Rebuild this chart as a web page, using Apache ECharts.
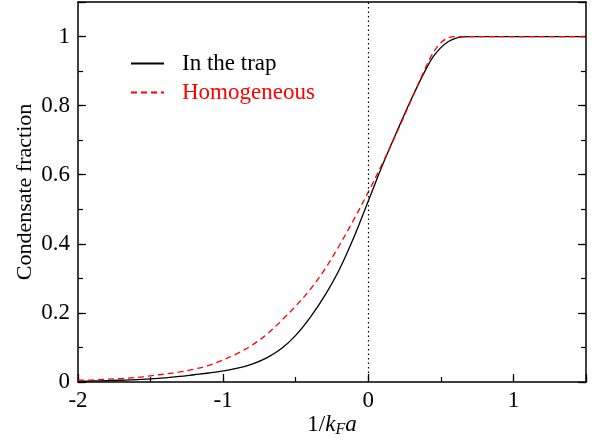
<!DOCTYPE html>
<html>
<head>
<meta charset="utf-8">
<script src="https://cdn.jsdelivr.net/npm/echarts@6/dist/echarts.min.js"></script>
<style>
  html, body { margin: 0; padding: 0; background: #fff; }
  #chart { width: 601px; height: 443px; }
</style>
</head>
<body>
<div id="chart"></div>
<script>
// 1/kFa values
const xVals = [-2, -1.9, -1.8, -1.7, -1.6, -1.5, -1.4, -1.3, -1.2, -1.1, -1.0, -0.9, -0.8, -0.7, -0.6,
  -0.5, -0.4, -0.3, -0.2, -0.1, 0, 0.1, 0.2, 0.3, 0.4, 0.45, 0.5, 0.55, 0.6, 0.65, 0.7, 0.8, 1.0, 1.2, 1.5];
// condensate fraction, in the trap
const trapVals = [0.002, 0.003, 0.004, 0.005, 0.007, 0.009, 0.012, 0.016, 0.021, 0.026, 0.032, 0.040, 0.052, 0.070, 0.096,
  0.135, 0.187, 0.25, 0.325, 0.418, 0.524, 0.63, 0.728, 0.822, 0.908, 0.943, 0.968, 0.985, 0.995, 0.999, 1, 1, 1, 1, 1];
// condensate fraction, homogeneous
const homoVals = [0.005, 0.006, 0.008, 0.010, 0.013, 0.018, 0.023, 0.029, 0.037, 0.048, 0.064, 0.083, 0.107, 0.138, 0.177,
  0.22, 0.268, 0.326, 0.395, 0.47, 0.55, 0.635, 0.725, 0.82, 0.915, 0.955, 0.982, 0.996, 1, 1, 1, 1, 1, 1, 1];
const xTicks = [-2, -1, 0, 1];
const yTicks = [0, 0.2, 0.4, 0.6, 0.8, 1];

const FONT = "Liberation Serif";
const chart = echarts.init(document.getElementById("chart"));

const pairs = (ys) => xVals.map((x, i) => [x, ys[i]]);

function showTick(list) {
  return function (v) {
    for (const t of list) {
      if (Math.abs(v - t) < 1e-6) return String(t);
    }
    return "";
  };
}

const frame = { show: true, onZero: false, lineStyle: { color: "#000", width: 1.5 } };
const noLine = { show: false, onZero: false };
const tickStyle = { color: "#000", width: 1.2 };

chart.setOption({
  animation: false,
  grid: { left: 78, right: 15, top: 2, bottom: 61 },
  legend: {
    orient: "vertical",
    left: 125,
    top: 47,
    itemWidth: 33,
    itemHeight: 14,
    itemGap: 6,
    itemStyle: { opacity: 0 },
    textStyle: { fontFamily: FONT, fontSize: 23, color: "#000", padding: [0, 0, 0, 13] },
    data: [
      { name: "In the trap", textStyle: { color: "#000" } },
      { name: "Homogeneous", textStyle: { color: "#ff0000" } },
    ],
  },
  xAxis: [
    {
      type: "value",
      min: -2,
      max: 1.5,
      interval: 1,
      position: "bottom",
      axisLine: frame,
      axisTick: { inside: true, length: 8, lineStyle: tickStyle },
      axisLabel: {
        margin: 7,
        fontFamily: FONT,
        fontSize: 23,
        color: "#000",
        formatter: showTick(xTicks),
      },
      splitLine: { show: false },
      name: "{n|1/}{i|k}{s|F}{i|a}",
      nameLocation: "middle",
      nameGap: 29,
      nameMoveOverlap: false,
      nameTextStyle: {
        rich: {
          n: { fontFamily: FONT, fontSize: 23, color: "#000" },
          i: { fontFamily: FONT, fontSize: 23, fontStyle: "italic", color: "#000" },
          s: { fontFamily: FONT, fontSize: 16, fontStyle: "italic", color: "#000", verticalAlign: "bottom", padding: [11, 0, 0, 0] },
        },
      },
    },
    {
      type: "value",
      min: -2,
      max: 1.5,
      interval: 0.5,
      position: "bottom",
      axisLine: noLine,
      axisTick: { inside: true, length: 5, lineStyle: tickStyle },
      axisLabel: { show: false },
      splitLine: { show: false },
    },
    {
      type: "value",
      min: -2,
      max: 1.5,
      position: "top",
      axisLine: frame,
      axisTick: { show: false },
      axisLabel: { show: false },
      splitLine: { show: false },
    },
  ],
  yAxis: [
    {
      type: "value",
      min: 0,
      max: 1.1,
      interval: 0.2,
      position: "left",
      axisLine: frame,
      axisTick: { inside: true, length: 8, lineStyle: tickStyle },
      axisLabel: {
        margin: 8,
        fontFamily: FONT,
        fontSize: 23,
        color: "#000",
        formatter: showTick(yTicks),
      },
      splitLine: { show: false },
      name: "Condensate fraction",
      nameLocation: "middle",
      nameGap: 42,
      nameMoveOverlap: false,
      nameTextStyle: { fontFamily: FONT, fontSize: 22, color: "#000" },
    },
    {
      type: "value",
      min: 0,
      max: 1.1,
      interval: 0.1,
      position: "left",
      axisLine: noLine,
      axisTick: { inside: true, length: 5, lineStyle: tickStyle },
      axisLabel: { show: false },
      splitLine: { show: false },
    },
    {
      type: "value",
      min: 0,
      max: 1.1,
      interval: 0.2,
      position: "right",
      axisLine: frame,
      axisTick: { inside: true, length: 8, lineStyle: tickStyle },
      axisLabel: { show: false },
      splitLine: { show: false },
    },
    {
      type: "value",
      min: 0,
      max: 1.1,
      interval: 0.1,
      position: "right",
      axisLine: noLine,
      axisTick: { inside: true, length: 5, lineStyle: tickStyle },
      axisLabel: { show: false },
      splitLine: { show: false },
    },
  ],
  series: [
    {
      name: "In the trap",
      type: "line",
      data: pairs(trapVals),
      smooth: 0.35,
      showSymbol: false,
      symbol: "none",
      lineStyle: { color: "#000", width: 1.3 },
      itemStyle: { color: "#000" },
      markLine: {
        silent: true,
        symbol: "none",
        label: { show: false },
        lineStyle: { color: "#000", width: 1.2, type: [1.5, 3] },
        data: [{ xAxis: 0 }],
      },
      z: 3,
    },
    {
      name: "Homogeneous",
      type: "line",
      data: pairs(homoVals),
      smooth: 0.35,
      showSymbol: false,
      symbol: "none",
      lineStyle: { color: "#ff0000", width: 1.3, type: [6, 4] },
      itemStyle: { color: "#ff0000" },
      z: 4,
    },
  ],
});
</script>
</body>
</html>
